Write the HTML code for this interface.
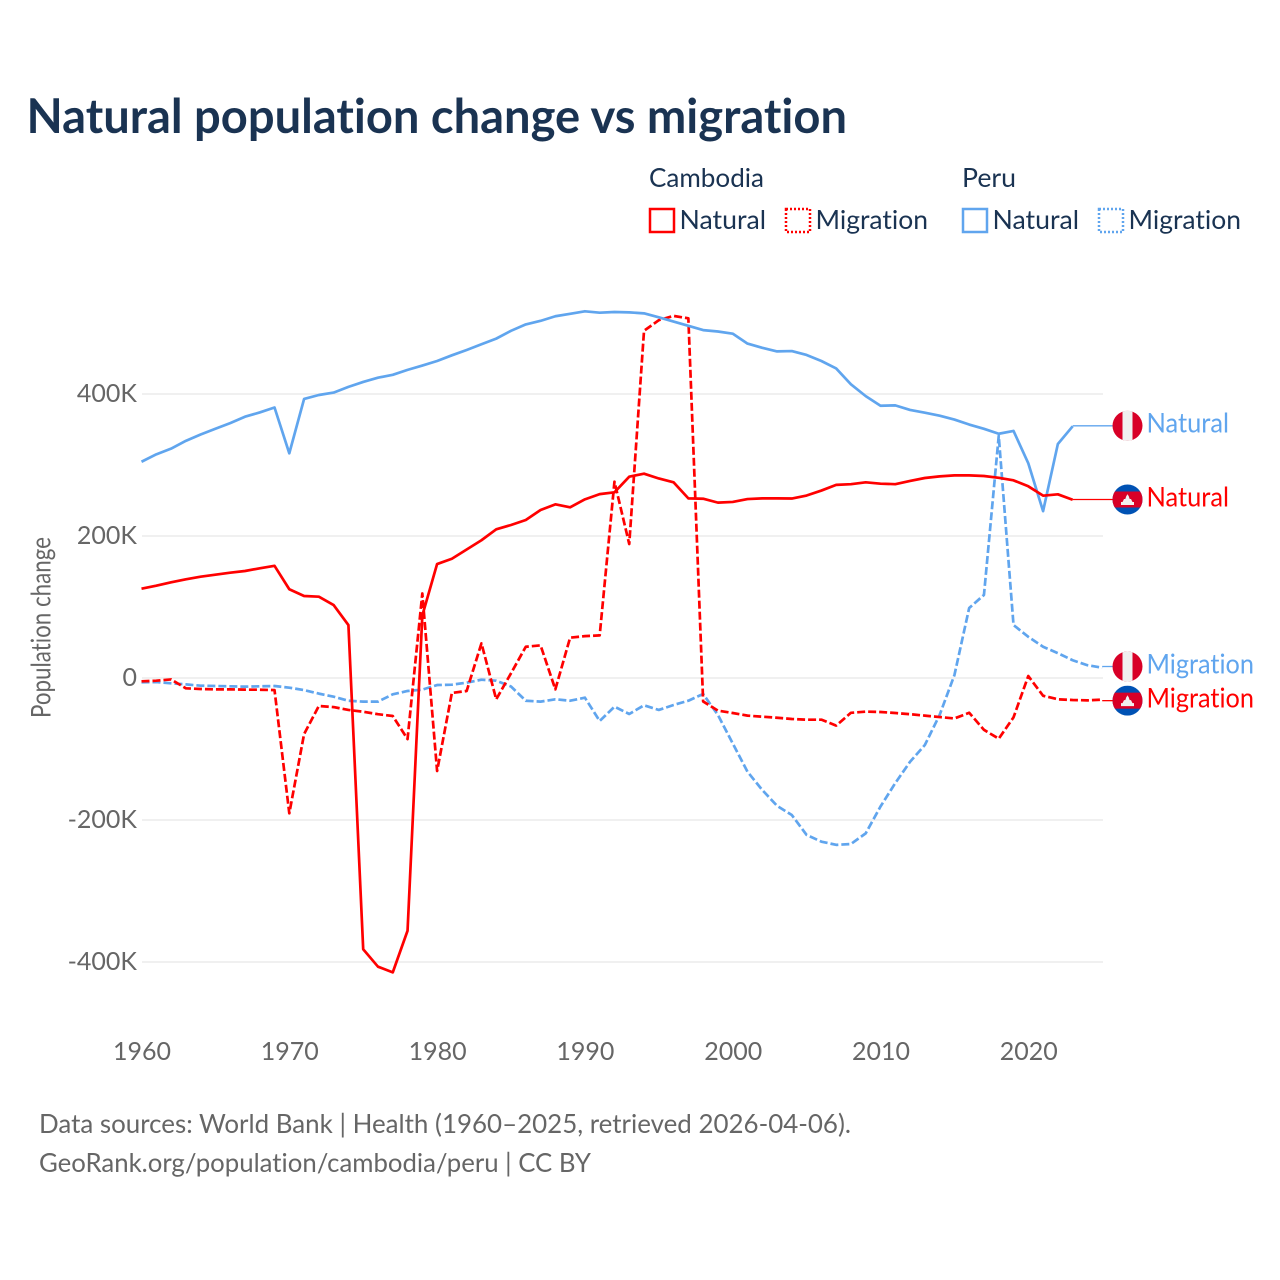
<!DOCTYPE html>
<html lang="en">
<head>
<meta charset="utf-8">
<title>Natural population change vs migration</title>
<style>
html,body{margin:0;padding:0;background:#fff;}
svg{display:block;}
text{font-family:"Lato","Carlito","Liberation Sans",sans-serif;font-variant-ligatures:none;}
.tick{font-size:25px;fill:#666;}
.leg{font-size:26.5px;fill:#1a3352;}
.src{font-size:26.5px;fill:#666;}
.lab{font-size:27px;}
</style>
</head>
<body>
<svg id="chart" xmlns="http://www.w3.org/2000/svg" width="1280" height="1280" viewBox="0 0 1280 1280">
  <rect x="0" y="0" width="1280" height="1280" fill="#fff"/>
  <defs>
    <clipPath id="flag-clip"><circle cx="0" cy="0" r="15"/></clipPath>
    <g id="flag-peru">
      <g clip-path="url(#flag-clip)">
        <rect x="-15" y="-15" width="30" height="30" fill="#d80027"/>
        <rect x="-5" y="-15" width="10" height="30" fill="#f0f0f0"/>
      </g>
    </g>
    <g id="flag-cambodia">
      <g clip-path="url(#flag-clip)">
        <rect x="-15" y="-15" width="30" height="30" fill="#0052b4"/>
        <rect x="-15" y="-8" width="30" height="16" fill="#d80027"/>
        <path d="M-6.5 5.5H6.5V2.5H5L3.5-0.5H2.2L1-4H0.6L0-5.5L-0.6-4H-1L-2.2-0.5H-3.5L-5 2.5H-6.5Z" fill="#f0f0f0"/>
      </g>
    </g>
  </defs>

  <text x="26.5" y="133" font-size="48" font-weight="700" fill="#1a3352" textLength="820.5" lengthAdjust="spacingAndGlyphs">Natural population change vs migration</text>

  <g>
    <text class="leg" x="649" y="187" textLength="115" lengthAdjust="spacingAndGlyphs">Cambodia</text>
    <text class="leg" x="962" y="187" textLength="54" lengthAdjust="spacingAndGlyphs">Peru</text>
    <rect x="650" y="209" width="24" height="23" fill="none" stroke="#ff0000" stroke-width="2.5"/>
    <text class="leg" x="679.5" y="229" textLength="86.5" lengthAdjust="spacingAndGlyphs">Natural</text>
    <rect x="786" y="209" width="24" height="23" fill="none" stroke="#ff0000" stroke-width="2.5" stroke-dasharray="2 2"/>
    <text class="leg" x="815.5" y="229" textLength="112.5" lengthAdjust="spacingAndGlyphs">Migration</text>
    <rect x="963" y="209" width="24" height="23" fill="none" stroke="#60a5ee" stroke-width="2.5"/>
    <text class="leg" x="992.5" y="229" textLength="86.5" lengthAdjust="spacingAndGlyphs">Natural</text>
    <rect x="1099" y="209" width="24" height="23" fill="none" stroke="#60a5ee" stroke-width="2.5" stroke-dasharray="2 2"/>
    <text class="leg" x="1128.5" y="229" textLength="112.5" lengthAdjust="spacingAndGlyphs">Migration</text>
  </g>

  <g id="grid"></g>
  <g id="yticks"></g>
  <g id="xticks"></g>
  <text class="tick" transform="translate(50.5 627.5) rotate(-90)" text-anchor="middle" style="font-size:27px" textLength="181" lengthAdjust="spacingAndGlyphs">Population change</text>
  <g id="series"></g>
  <g id="labels"></g>

  <text class="src" x="39" y="1133" textLength="812" lengthAdjust="spacingAndGlyphs">Data sources: World Bank | Health (1960–2025, retrieved 2026-04-06).</text>
  <text class="src" x="39" y="1172" textLength="552" lengthAdjust="spacingAndGlyphs">GeoRank.org/population/cambodia/peru | CC BY</text>
</svg>
<script>
const years = [1960,1961,1962,1963,1964,1965,1966,1967,1968,1969,1970,1971,1972,1973,1974,1975,1976,1977,1978,1979,1980,1981,1982,1983,1984,1985,1986,1987,1988,1989,1990,1991,1992,1993,1994,1995,1996,1997,1998,1999,2000,2001,2002,2003,2004,2005,2006,2007,2008,2009,2010,2011,2012,2013,2014,2015,2016,2017,2018,2019,2020,2021,2022,2023,2024,2025];
const xTickValues = [1960,1970,1980,1990,2000,2010,2020];
const yTickValues = [400,200,0,-200,-400];
const yTickLabels = ["400K","200K","0","-200K","-400K"];

// thousands of people per year
const cambodiaNatural = [125.8,130,134.7,139,142.7,145.5,148.3,150.7,154.5,158,125,115.5,114.5,102.8,74.6,-382,-406.6,-414.6,-356,88,160.5,168,181,194,209.4,215.5,222.5,236.6,244.6,240.4,251.6,259,261.5,283.6,287.8,281,275.6,253,252.5,247,248,252,253,253,252.8,257,264,272,273,275.6,273.7,273,277.5,281.7,284,285.4,285.4,284.5,282,278.4,270,256.8,258.7,251];
const cambodiaMigration = [-4.7,-3.8,-2,-14.5,-15.5,-16,-16,-16.4,-16.5,-17,-190.6,-79,-39.4,-41,-45,-47.5,-51,-53.5,-86,119,-131,-21,-18.3,48.8,-30,6.6,44,46,-16,56.8,59,60,276.5,188.7,489,504,510,506.6,-33,-46,-49.3,-53,-54.5,-56,-57.7,-58.7,-58.7,-67,-49,-47.4,-47.9,-49.3,-51,-53,-55,-57,-49,-73,-85.5,-55.4,2.8,-25,-30,-31,-31.5,-30.5];
const peruNatural = [304.6,315,323,334,343,351,359,368,374,381,316.5,393,398.6,402,410,417,423,427,434,440,446.5,454.5,462,470,478,489,498,503,509.5,513,516.5,514.5,515.5,515,513.6,508,502,496,490,488,485,471,465,460,460.5,455,446.5,436,413.6,397,383.5,384,377.5,373.7,369.5,364,357,351,344,348,302.4,235,329.6,354.5];
const peruMigration = [-6,-5.7,-7.5,-9,-10.8,-11.3,-11.7,-12.2,-11.7,-11.3,-13.6,-17,-22,-26.3,-32,-33.3,-33.3,-23,-18.3,-16.4,-9.9,-9.4,-6.6,-2.4,-3.8,-12,-32,-33.3,-30,-32,-27.7,-60.6,-40.4,-50.7,-38.5,-45,-38,-32,-22.5,-52,-92,-132,-157.7,-180,-193,-221,-230.5,-235,-233.8,-218.8,-181,-148,-118,-94.4,-52,4,98.6,117,341,74.6,58,44,35,25,18,14.5];

const SVGNS = "http://www.w3.org/2000/svg";
const x = function (yr) { return 141.5 + (yr - 1960) * 14.78; };
const y = function (v) { return 678 - v * 0.71; };

function mk(tag, attrs, parent) {
  const el = document.createElementNS(SVGNS, tag);
  for (const k in attrs) el.setAttribute(k, attrs[k]);
  parent.appendChild(el);
  return el;
}

const gridG = document.getElementById("grid");
const yG = document.getElementById("yticks");
const xG = document.getElementById("xticks");
const seriesG = document.getElementById("series");
const labelsG = document.getElementById("labels");

yTickValues.forEach(function (v, i) {
  const ln = mk("line", {x1: 142, x2: 1103, y1: y(v), y2: y(v), stroke: "#ececec", "stroke-width": 1.5}, gridG);
  
  
  const t = mk("text", {x: 137, y: y(v) + 8, "text-anchor": "end", "class": "tick"}, yG);
  t.textContent = yTickLabels[i];
  
  
});

xTickValues.forEach(function (yr) {
  const t = mk("text", {x: x(yr) + 0.5, y: 1060, "text-anchor": "middle", "class": "tick"}, xG);
  t.textContent = String(yr);
  
  
});

const RED = "#ff0000";
const BLUE = "#60a5ee";
const FLAGX = 1127.5;

function drawSeries(values, color, dashed, flag, label, labelWidth, dodge) {
  const pts = values.map(function (v, i) { return x(years[i]) + "," + y(v); }).join(" ");
  const lastX = x(years[values.length - 1]);
  const lastY = y(values[values.length - 1]);
  const flagY = lastY + dodge;

  const line = mk("polyline", {points: pts, fill: "none", stroke: color, "stroke-width": 2.7, "stroke-linejoin": "round"}, seriesG);
  if (dashed) line.setAttribute("stroke-dasharray", "8 3");
  
  

  const conn = mk("line", {x1: lastX, y1: flagY, x2: FLAGX - 15, y2: flagY, stroke: color, "stroke-width": 1.3}, labelsG);
  
  

  const fl = mk("use", {href: "#" + flag, transform: "translate(" + FLAGX + " " + flagY + ")"}, labelsG);
  
  

  const t = mk("text", {x: 1146.5, y: flagY + 6.8, fill: color, "class": "lab", textLength: labelWidth, lengthAdjust: "spacingAndGlyphs"}, labelsG);
  t.textContent = label;
  
  
}

drawSeries(peruMigration, BLUE, true, "flag-peru", "Migration", 107.5, -1.2);
drawSeries(cambodiaMigration, RED, true, "flag-cambodia", "Migration", 107.5, 1);
drawSeries(peruNatural, BLUE, false, "flag-peru", "Natural", 82.5, -0.5);
drawSeries(cambodiaNatural, RED, false, "flag-cambodia", "Natural", 82.5, -0.3);
</script>
</body>
</html>
